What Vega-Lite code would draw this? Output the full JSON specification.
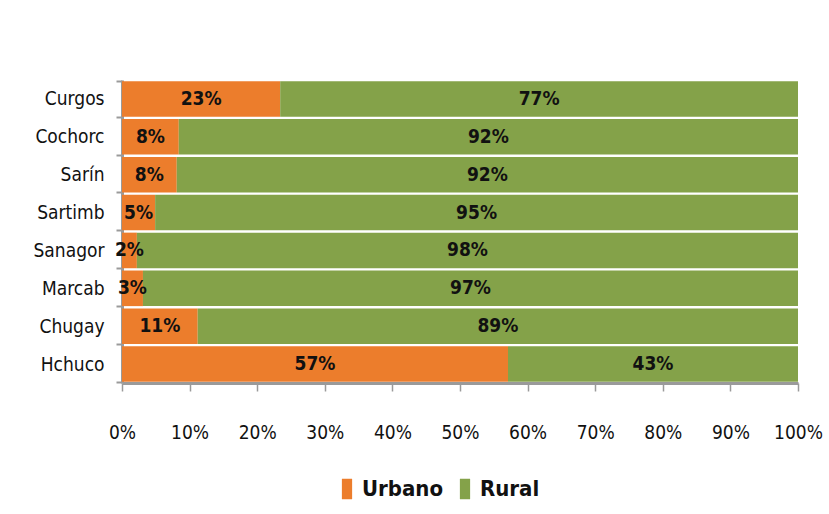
{
  "$schema": "https://vega.github.io/schema/vega-lite/v6.json",
  "autosize": {"type": "none"},
  "width": 676,
  "height": 303,
  "padding": {"left": 122, "top": 80, "right": 31, "bottom": 131},
  "background": "white",
  "config": {
    "view": {"stroke": null},
    "font": "DejaVu Sans Condensed, Liberation Sans, sans-serif"
  },
  "data": {
    "values": [
      {"distrito": "Curgos", "zona": "Urbano", "ord": 1, "pct": 0.234},
      {"distrito": "Curgos", "zona": "Rural", "ord": 2, "pct": 0.766},
      {"distrito": "Cochorc", "zona": "Urbano", "ord": 1, "pct": 0.084},
      {"distrito": "Cochorc", "zona": "Rural", "ord": 2, "pct": 0.916},
      {"distrito": "Sarín", "zona": "Urbano", "ord": 1, "pct": 0.081},
      {"distrito": "Sarín", "zona": "Rural", "ord": 2, "pct": 0.919},
      {"distrito": "Sartimb", "zona": "Urbano", "ord": 1, "pct": 0.049},
      {"distrito": "Sartimb", "zona": "Rural", "ord": 2, "pct": 0.951},
      {"distrito": "Sanagor", "zona": "Urbano", "ord": 1, "pct": 0.022},
      {"distrito": "Sanagor", "zona": "Rural", "ord": 2, "pct": 0.978},
      {"distrito": "Marcab", "zona": "Urbano", "ord": 1, "pct": 0.031},
      {"distrito": "Marcab", "zona": "Rural", "ord": 2, "pct": 0.969},
      {"distrito": "Chugay", "zona": "Urbano", "ord": 1, "pct": 0.112},
      {"distrito": "Chugay", "zona": "Rural", "ord": 2, "pct": 0.888},
      {"distrito": "Hchuco", "zona": "Urbano", "ord": 1, "pct": 0.571},
      {"distrito": "Hchuco", "zona": "Rural", "ord": 2, "pct": 0.429}
    ]
  },
  "encoding": {
    "y": {
      "field": "distrito",
      "type": "nominal",
      "sort": null,
      "scale": {"paddingInner": 0.06, "paddingOuter": 0.03},
      "axis": {
        "title": null,
        "domainColor": "#9a9a9a",
        "domainWidth": 3,
        "tickColor": "#9a9a9a",
        "tickWidth": 2,
        "tickSize": 6,
        "tickBand": "extent",
        "labelFont": "DejaVu Sans Condensed, Liberation Sans, sans-serif",
        "labelFontSize": 19,
        "labelColor": "#111111",
        "labelPadding": 12
      }
    }
  },
  "layer": [
    {
      "mark": {"type": "bar"},
      "encoding": {
        "x": {
          "field": "pct",
          "type": "quantitative",
          "stack": "zero",
          "scale": {"domain": [0, 1]},
          "axis": {
            "title": null,
            "format": ".0%",
            "values": [0, 0.1, 0.2, 0.3, 0.4, 0.5, 0.6, 0.7, 0.8, 0.9, 1],
            "grid": false,
            "domainColor": "#9a9a9a",
            "domainWidth": 3,
            "tickColor": "#9a9a9a",
            "tickWidth": 1.5,
            "tickSize": 8,
            "labelFont": "DejaVu Sans Condensed, Liberation Sans, sans-serif",
            "labelFontSize": 19,
            "labelColor": "#111111",
            "labelPadding": 32,
            "labelFlush": false
          }
        },
        "color": {
          "field": "zona",
          "type": "nominal",
          "scale": {"domain": ["Urbano", "Rural"], "range": ["#EC7D2C", "#84A249"]},
          "legend": {
            "title": null,
            "orient": "none",
            "direction": "horizontal",
            "legendX": 214,
            "legendY": 398,
            "symbolType": "M-0.5,-1H0.5V1H-0.5Z",
            "symbolSize": 420,
            "symbolStrokeWidth": 0,
            "symbolOpacity": 1,
            "labelFont": "DejaVu Sans Condensed, Liberation Sans, sans-serif",
            "labelFontSize": 22,
            "labelFontWeight": "bold",
            "labelColor": "#111111",
            "labelOffset": 4,
            "columnPadding": 10
          }
        },
        "order": {"field": "ord", "type": "quantitative"}
      }
    },
    {
      "mark": {"type": "text", "font": "DejaVu Sans Condensed, Liberation Sans, sans-serif", "fontSize": 19, "fontWeight": "bold", "color": "#111111"},
      "encoding": {
        "x": {"field": "pct", "type": "quantitative", "stack": "zero", "bandPosition": 0.5},
        "text": {"field": "pct", "type": "quantitative", "format": ".0%"},
        "order": {"field": "ord", "type": "quantitative"}
      }
    }
  ]
}
